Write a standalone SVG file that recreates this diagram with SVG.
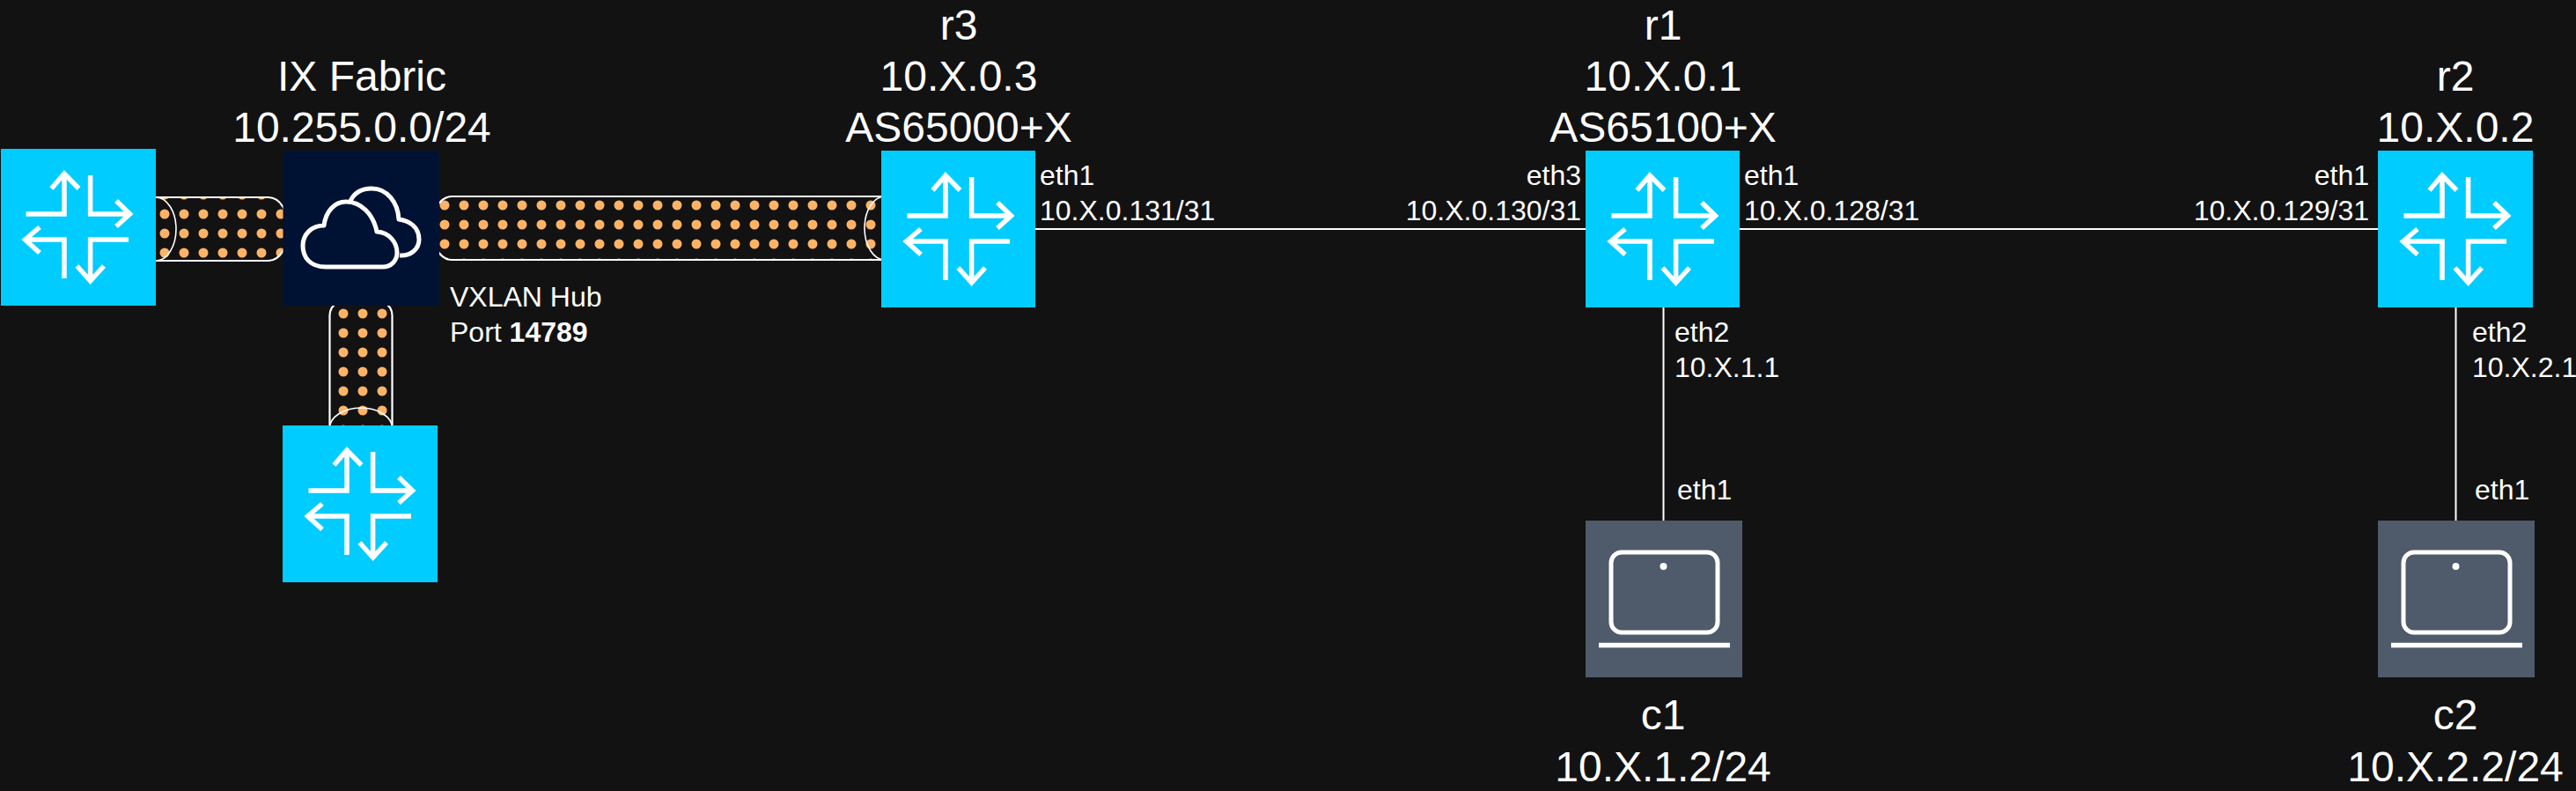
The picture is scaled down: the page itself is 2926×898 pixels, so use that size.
<svg xmlns="http://www.w3.org/2000/svg" width="2926" height="898" viewBox="0 0 2926 898">
  <style>
    text { font-family: "Liberation Sans", Arial, Helvetica, sans-serif; fill: #ffffff; }
    .big { font-size: 48px; text-anchor: middle; }
    .small { font-size: 32px; }
    .end { text-anchor: end; }
    .link { stroke: #ffffff; stroke-width: 2; fill: none; }
    .pipe { stroke: #ffffff; stroke-width: 2.2; }
    .cap { stroke: #ffffff; stroke-width: 1.6; fill: none; }
    .router { fill: #00ccff; }
    .ico { fill: none; stroke: #ffffff; stroke-width: 5.5; stroke-linejoin: miter; }
    .laptop { fill: #4f5a6b; }
  </style>
  <defs>
    <pattern id="dotsA" patternUnits="userSpaceOnUse" x="176" y="232" width="22" height="22">
      <circle cx="11" cy="11" r="5.5" fill="#ffb366"/>
    </pattern>
    <pattern id="dotsB" patternUnits="userSpaceOnUse" x="494" y="222" width="22" height="22">
      <circle cx="11" cy="11" r="5.5" fill="#ffb366"/>
    </pattern>
    <pattern id="dotsC" patternUnits="userSpaceOnUse" x="379" y="345" width="22" height="22">
      <circle cx="11" cy="11" r="5.5" fill="#ffb366"/>
    </pattern>
    <g id="routerIcon">
      <path class="ico" d="M29.5 74H73V29M58.5 45L73 28L89.5 45"/>
      <path class="ico" d="M102.6 30V74H146M132 59L147.5 74L132 88"/>
      <path class="ico" d="M146 103H102.6V148M87.5 133L102.6 150L118 133"/>
      <path class="ico" d="M73 147V103H29M45 89L28.5 103L45 118"/>
    </g>
    <g id="laptopIcon">
      <rect class="ico" style="stroke-width:5" x="29" y="36" width="121" height="91" rx="12"/>
      <circle cx="88.500" cy="52" r="4" fill="#ffffff"/>
      <path class="ico" d="M15 141.500H164"/>
    </g>
  </defs>
  <rect width="2926" height="898" fill="#121212"/>

  <g id="connectors">
    <g id="tunnel-left">
      <path class="pipe" fill="url(#dotsA)" d="M177 224H305A23 36 0 0 1 305 296H177A23 36 0 0 1 177 224Z"/>
      <path class="cap" d="M177 224A23 36 0 0 1 177 296"/>
    </g>
    <g id="tunnel-right">
      <path class="pipe" fill="url(#dotsB)" d="M513 223H1005A23 36 0 0 1 1005 295H513A23 36 0 0 1 513 223Z"/>
      <path class="cap" d="M1005 223A23 36 0 0 0 1005 295"/>
    </g>
    <g id="tunnel-down">
      <path class="pipe" fill="url(#dotsC)" d="M374.500 358A35.500 23 0 0 1 445.500 358V486A35.500 23 0 0 1 374.500 486Z"/>
      <path class="cap" d="M374.500 486A35.500 23 0 0 1 445.500 486"/>
    </g>
    <path class="link" id="r3-r1" d="M1176 260H1801"/>
    <path class="link" id="r1-r2" d="M1976 260H2701"/>
    <path class="link" id="r1-c1" d="M1889.500 349V591"/>
    <path class="link" id="r2-c2" d="M2789.500 349V591"/>
  </g>

  <g id="peer-left">
    <rect class="router" x="1" y="169" width="176" height="178"/>
    <use href="#routerIcon" x="0" y="169"/>
  </g>
  <g id="peer-bottom">
    <rect class="router" x="321" y="483" width="176" height="178"/>
    <use href="#routerIcon" x="321" y="483"/>
  </g>

  <g id="ix-fabric">
    <rect x="321.500" y="171" width="177.500" height="176" fill="#001233"/>
    <g fill="none" stroke="#ffffff" stroke-width="5" stroke-linejoin="round">
      <path d="M370 303C352 303 344 292 344 279C344 266 354 256 368 256C370 240 380 229 393 229C410 229 424 243 428 263C442 264 451 275 451 287C451 296 444 303 435 303Z"/>
      <path d="M398 228C403 218 412 214 422 214C440 214 452 230 453 249C466 251 476 258 476 272C476 283 466 291 454 290"/>
    </g>
    <text class="big" x="411" y="102.700">IX Fabric</text>
    <text class="big" x="411" y="161">10.255.0.0/24</text>
    <text class="small" x="511" y="348">VXLAN Hub</text>
    <text class="small" x="511" y="388">Port <tspan font-weight="bold">14789</tspan></text>
  </g>

  <g id="r3">
    <rect class="router" x="1001" y="171" width="175" height="178"/>
    <use href="#routerIcon" x="1001" y="171"/>
    <text class="big" x="1089" y="44.500">r3</text>
    <text class="big" x="1089" y="102.700">10.X.0.3</text>
    <text class="big" x="1089" y="161">AS65000+X</text>
    <text class="small" x="1181" y="210">eth1</text>
    <text class="small" x="1181" y="250">10.X.0.131/31</text>
  </g>

  <g id="r1">
    <rect class="router" x="1801" y="171" width="175" height="178"/>
    <use href="#routerIcon" x="1801" y="171"/>
    <text class="big" x="1889" y="44.500">r1</text>
    <text class="big" x="1889" y="102.700">10.X.0.1</text>
    <text class="big" x="1889" y="161">AS65100+X</text>
    <text class="small end" x="1796" y="210">eth3</text>
    <text class="small end" x="1796" y="250">10.X.0.130/31</text>
    <text class="small" x="1981" y="210">eth1</text>
    <text class="small" x="1981" y="250">10.X.0.128/31</text>
    <text class="small" x="1902" y="388">eth2</text>
    <text class="small" x="1902" y="428">10.X.1.1</text>
  </g>

  <g id="r2">
    <rect class="router" x="2701" y="171" width="176" height="178"/>
    <use href="#routerIcon" x="2701" y="171"/>
    <text class="big" x="2789" y="102.700">r2</text>
    <text class="big" x="2789" y="161">10.X.0.2</text>
    <text class="small end" x="2691" y="210">eth1</text>
    <text class="small end" x="2691" y="250">10.X.0.129/31</text>
    <text class="small" x="2808" y="388">eth2</text>
    <text class="small" x="2808" y="428">10.X.2.1</text>
  </g>

  <g id="c1">
    <rect class="laptop" x="1801" y="591" width="178" height="178"/>
    <use href="#laptopIcon" x="1801" y="591"/>
    <text class="small" x="1905" y="567">eth1</text>
    <text class="big" x="1889" y="828">c1</text>
    <text class="big" x="1889" y="887">10.X.1.2/24</text>
  </g>

  <g id="c2">
    <rect class="laptop" x="2701" y="591" width="178" height="178"/>
    <use href="#laptopIcon" x="2701" y="591"/>
    <text class="small" x="2811" y="567">eth1</text>
    <text class="big" x="2789" y="828">c2</text>
    <text class="big" x="2789" y="887">10.X.2.2/24</text>
  </g>
</svg>
